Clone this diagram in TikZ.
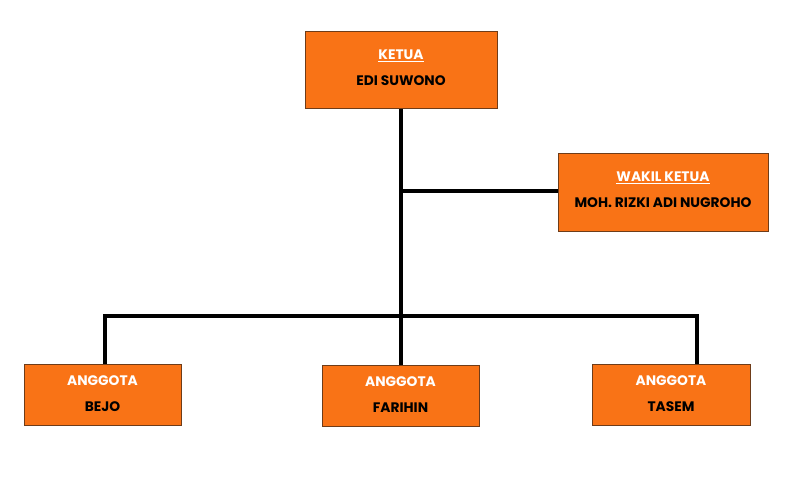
\documentclass[tikz,border=0pt]{standalone}
\usepackage{fontspec}
\setmainfont{Poppins}[BoldFont={* Bold}]
\definecolor{boxorange}{RGB}{249,115,22}
\definecolor{boxedge}{RGB}{110,60,25}
\tikzset{
  orgbox/.style={draw=boxedge, line width=0.9pt, fill=boxorange, anchor=north west, inner sep=0pt},
  roletext/.style={text=white, font=\bfseries\fontsize{13.8}{15}\selectfont, inner sep=0pt},
  nametext/.style={text=black, font=\bfseries\fontsize{13.8}{15}\selectfont, inner sep=0pt},
  conn/.style={line width=3.8pt, black}
}
\newcommand{\ul}[1]{\underline{#1}}
\begin{document}
\begin{tikzpicture}[x=1pt,y=-1pt]
\useasboundingbox[fill=white] (0,0) rectangle (805,487);
% connectors (drawn first, boxes on top)
\coordinate (j1) at (401,191);
\coordinate (j2) at (401,316);
\coordinate (jl) at (105,316);
\coordinate (jr) at (697,316);
\coordinate (jt) at (401,100);
% boxes
\node[orgbox, minimum width=192pt, minimum height=77pt] (ketua) at (305,31) {};
\node[orgbox, minimum width=210pt, minimum height=78pt] (wakil) at (558,153) {};
\node[orgbox, minimum width=157pt, minimum height=61pt] (bejo) at (24,364) {};
\node[orgbox, minimum width=157pt, minimum height=61pt] (farihin) at (322,365) {};
\node[orgbox, minimum width=158pt, minimum height=61pt] (tasem) at (592,364) {};
\draw[conn] (j2 |- ketua.south) -- (j2);
\draw[conn] (j1) -- (wakil.west |- j1);
\draw[conn, line cap=rect] (jl) -- (jr);
\draw[conn] (jl) -- (jl |- bejo.north);
\draw[conn] (j2) -- (j2 |- farihin.north);
\draw[conn] (jr) -- (jr |- tasem.north);
% texts
\node[roletext] (t1) at (401,56) {\ul{KETUA}};
\node[nametext] (n1) at (401,81) {EDI SUWONO};
\node[roletext] (t2) at (663,178) {\ul{WAKIL KETUA}};
\node[nametext] (n2) at (663,203) {MOH. RIZKI ADI NUGROHO};
\node[roletext] (t3) at (102.5,381) {ANGGOTA};
\node[nametext] (n3) at (102.5,407) {BEJO};
\node[roletext] (t4) at (400.5,382) {ANGGOTA};
\node[nametext] (n4) at (400.5,408) {FARIHIN};
\node[roletext] (t5) at (671,381) {ANGGOTA};
\node[nametext] (n5) at (671,407) {TASEM};
\end{tikzpicture}
\end{document}
